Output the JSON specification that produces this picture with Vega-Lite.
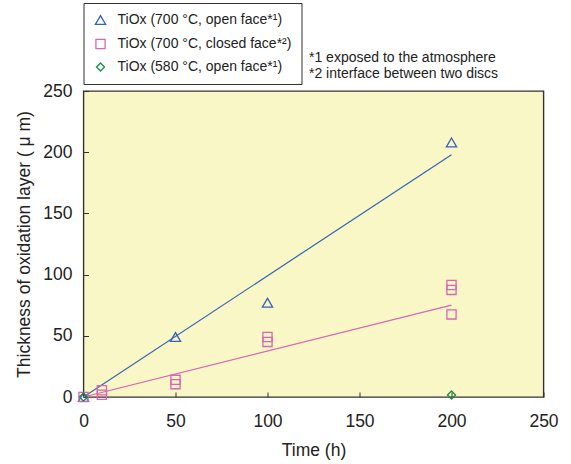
{
  "$schema": "https://vega.github.io/schema/vega-lite/v6.json",
  "width": 460,
  "height": 306,
  "autosize": {"type": "none"},
  "padding": {"left": 83.5, "top": 91, "right": 27.5, "bottom": 67},
  "background": "white",
  "config": {
    "font": "Liberation Sans",
    "view": {"fill": "#FAF7C6", "stroke": "#333333", "strokeWidth": 1.4}
  },
  "title": {
    "text": ["*1 exposed to the atmosphere", "*2 interface between two discs"],
    "anchor": "start",
    "frame": "group",
    "dx": 225.5,
    "dy": 78,
    "offset": 0,
    "fontSize": 14,
    "fontWeight": "normal",
    "lineHeight": 16,
    "color": "#222222"
  },
  "layer": [
    {
      "data": {
        "values": [
          {"fit": "700 open", "time": 0, "thickness": 0},
          {"fit": "700 open", "time": 200, "thickness": 198},
          {"fit": "700 closed", "time": 0, "thickness": 0},
          {"fit": "700 closed", "time": 200, "thickness": 75}
        ]
      },
      "mark": {"type": "line", "strokeWidth": 1.2},
      "encoding": {
        "x": {
          "field": "time", "type": "quantitative",
          "scale": {"domain": [0, 250], "nice": false},
          "axis": {
            "values": [0, 50, 100, 150, 200, 250],
            "title": "Time (h)", "titleFontSize": 17.5, "titleFontWeight": "normal",
            "titleColor": "#222222", "titlePadding": 12,
            "labelFontSize": 17.5, "labelColor": "#222222", "labelPadding": 20, "labelFlush": false,
            "tickSize": -5, "tickColor": "#333333", "domain": false, "grid": false
          }
        },
        "y": {
          "field": "thickness", "type": "quantitative",
          "scale": {"domain": [0, 250], "nice": false},
          "axis": {
            "values": [0, 50, 100, 150, 200, 250],
            "title": "Thickness of oxidation layer ( μ m)", "titleFontSize": 17.5, "titleFontWeight": "normal",
            "titleColor": "#222222", "titlePadding": 9,
            "labelFontSize": 17.5, "labelColor": "#222222", "labelPadding": 16.5, "labelFlush": false,
            "tickSize": -5, "tickColor": "#333333", "domain": false, "grid": false
          }
        },
        "stroke": {
          "field": "fit", "type": "nominal",
          "scale": {"domain": ["700 open", "700 closed"], "range": ["#3463B9", "#D866B5"]},
          "legend": null
        }
      }
    },
    {
      "data": {
        "values": [
          {"series": "TiOx (700 °C, open face*¹)", "time": 0, "thickness": 0},
          {"series": "TiOx (700 °C, open face*¹)", "time": 50, "thickness": 49},
          {"series": "TiOx (700 °C, open face*¹)", "time": 100, "thickness": 77},
          {"series": "TiOx (700 °C, open face*¹)", "time": 200, "thickness": 208},
          {"series": "TiOx (700 °C, closed face*²)", "time": 0, "thickness": 0},
          {"series": "TiOx (700 °C, closed face*²)", "time": 10, "thickness": 5.5},
          {"series": "TiOx (700 °C, closed face*²)", "time": 10, "thickness": 1.8},
          {"series": "TiOx (700 °C, closed face*²)", "time": 50, "thickness": 14},
          {"series": "TiOx (700 °C, closed face*²)", "time": 50, "thickness": 10.5},
          {"series": "TiOx (700 °C, closed face*²)", "time": 100, "thickness": 49},
          {"series": "TiOx (700 °C, closed face*²)", "time": 100, "thickness": 45},
          {"series": "TiOx (700 °C, closed face*²)", "time": 200, "thickness": 91.5},
          {"series": "TiOx (700 °C, closed face*²)", "time": 200, "thickness": 87.5},
          {"series": "TiOx (700 °C, closed face*²)", "time": 200, "thickness": 67.5},
          {"series": "TiOx (580 °C, open face*¹)", "time": 0, "thickness": 0},
          {"series": "TiOx (580 °C, open face*¹)", "time": 200, "thickness": 1.6}
        ]
      },
      "mark": {"type": "point", "filled": false, "strokeWidth": 1.3, "clip": false, "opacity": 1},
      "encoding": {
        "x": {"field": "time", "type": "quantitative"},
        "y": {"field": "thickness", "type": "quantitative"},
        "color": {
          "field": "series", "type": "nominal",
          "scale": {
            "domain": ["TiOx (700 °C, open face*¹)", "TiOx (700 °C, closed face*²)", "TiOx (580 °C, open face*¹)"],
            "range": ["#3463B9", "#D866B5", "#1A8A4A"]
          },
          "legend": {
            "orient": "none", "legendX": 0, "legendY": -88,
            "title": null, "strokeColor": "#333333", "padding": 10,
            "labelFontSize": 14, "labelColor": "#222222", "labelOffset": 10,
            "symbolSize": 85, "symbolStrokeWidth": 1.3, "rowPadding": 8,
            "labelLimit": 400
          }
        },
        "shape": {
          "field": "series", "type": "nominal",
          "scale": {
            "domain": ["TiOx (700 °C, open face*¹)", "TiOx (700 °C, closed face*²)", "TiOx (580 °C, open face*¹)"],
            "range": ["triangle-up", "square", "diamond"]
          }
        },
        "size": {
          "field": "series", "type": "nominal",
          "scale": {
            "domain": ["TiOx (700 °C, open face*¹)", "TiOx (700 °C, closed face*²)", "TiOx (580 °C, open face*¹)"],
            "range": [105, 64, 100]
          },
          "legend": null
        }
      }
    }
  ]
}
